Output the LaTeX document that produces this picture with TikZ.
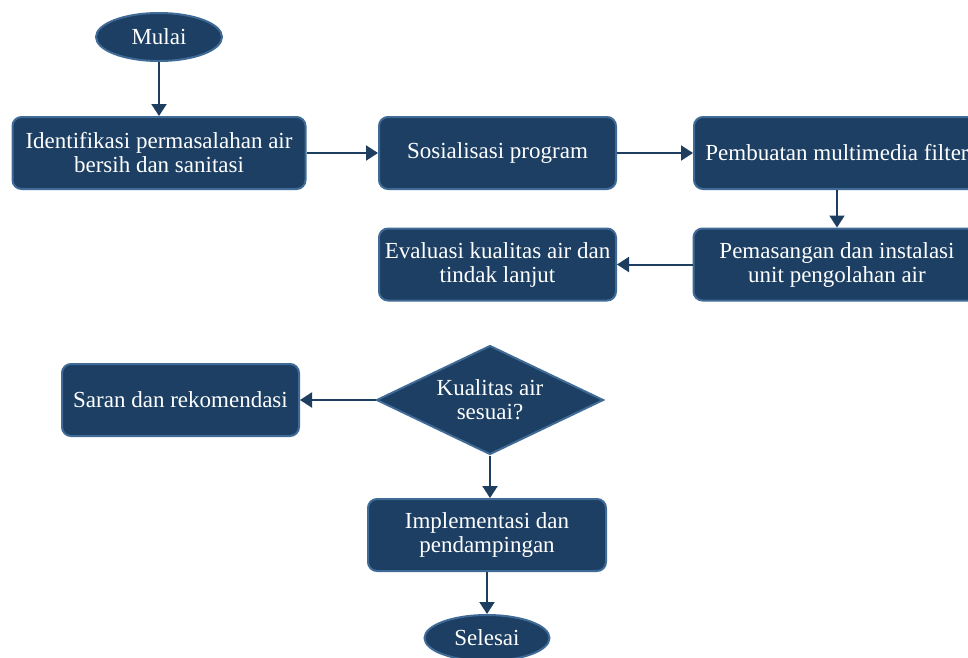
\documentclass[tikz,border=0pt]{standalone}
\usepackage{fontspec}
\setmainfont{Liberation Serif}
\usetikzlibrary{arrows.meta,shapes.geometric}
\definecolor{navy}{RGB}{28,63,99}
\definecolor{edge}{RGB}{64,107,150}
\definecolor{linkc}{RGB}{30,62,96}

\begin{document}
\begin{tikzpicture}[
x=1pt, y=-1pt,
font=\fontsize{23}{24}\selectfont,
process/.style={draw=edge, line width=2pt, rounded corners=9pt, fill=navy, text=white, align=center, minimum height=72pt, inner sep=3pt},
terminal/.style={draw=edge, line width=2pt, ellipse, fill=navy, text=white, minimum width=126pt, minimum height=48pt, inner sep=0pt},
decision/.style={draw=edge, line width=2pt, diamond, aspect=2.08, fill=navy, text=white, align=center, minimum width=227pt, minimum height=109pt, inner sep=0pt},
arrow/.style={-{Triangle[length=12pt,width=15pt]}, draw=linkc, line width=2pt}
]
\useasboundingbox (0,0) rectangle (968,657);

\node[terminal] (mulai) at (159,37) {Mulai};
\node[process, minimum width=293pt] (ident) at (159,153) {Identifikasi permasalahan air\\bersih dan sanitasi};
\node[process, minimum width=237pt] (sosial) at (497.5,153) {Sosialisasi program};
\node[process, minimum width=286pt] (buat) at (837,153) {Pembuatan multimedia filter};
\node[process, minimum width=287pt] (pasang) at (837,264.5) {Pemasangan dan instalasi\\unit pengolahan air};
\node[process, minimum width=237pt] (eval) at (497.5,264.5) {Evaluasi kualitas air dan\\tindak lanjut};

\node[decision] (cek) at (490,400) {Kualitas air\\sesuai?};
\node[process, minimum width=237pt] (saran) at (180.5,400) {Saran dan rekomendasi};
\node[process, minimum width=238pt] (impl) at (487,535) {Implementasi dan\\pendampingan};
\node[terminal, minimum width=125pt, minimum height=46pt] (selesai) at (487,638) {Selesai};

\draw[arrow] (mulai.south) -- (ident.north);
\draw[arrow] (ident.east) -- (sosial.west);
\draw[arrow] (sosial.east) -- (buat.west);
\draw[arrow] (buat.south) -- (pasang.north);
\draw[arrow] (pasang.west) -- (eval.east);
\draw[arrow] (cek.west) -- (saran.east);
\draw[arrow] (cek.south) -- (impl.north -| cek.south);
\draw[arrow] (impl.south) -- (selesai.north);
\end{tikzpicture}
\end{document}
